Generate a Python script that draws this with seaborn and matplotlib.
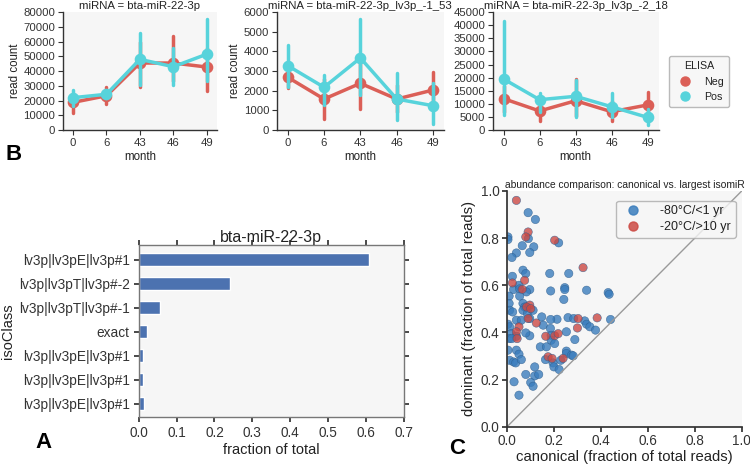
import numpy as np
import pandas as pd
import matplotlib
matplotlib.use("Agg")
import matplotlib.pyplot as plt
from matplotlib.lines import Line2D
import seaborn as sns

# ---------------- data ----------------
months = ["0", "6", "43", "46", "49"]
mirnas = ["bta-miR-22-3p", "bta-miR-22-3p_lv3p_-1_53", "bta-miR-22-3p_lv3p_-2_18"]

# panel B: estimate, lower and upper error bar per month
neg_est_1 = [18800, 23300, 45500, 45500, 42800]
neg_lo_1 = [11500, 17500, 29500, 33000, 26500]
neg_hi_1 = [25000, 29000, 60000, 63500, 56000]
pos_est_1 = [22000, 24300, 48000, 43000, 51500]
pos_lo_1 = [16500, 22000, 30500, 30500, 33500]
pos_hi_1 = [27500, 26500, 66000, 55500, 75500]

neg_est_2 = [2690, 1580, 2380, 1580, 2040]
neg_lo_2 = [2150, 550, 1050, 900, 1300]
neg_hi_2 = [3200, 2600, 3700, 2300, 2950]
pos_est_2 = [3280, 2180, 3670, 1580, 1240]
pos_lo_2 = [2200, 1300, 1800, 510, 300]
pos_hi_2 = [4350, 2800, 5650, 2900, 2400]

neg_est_3 = [12000, 7300, 11200, 7000, 9600]
neg_lo_3 = [7000, 3300, 5500, 3400, 4000]
neg_hi_3 = [17000, 11000, 19500, 11000, 14700]
pos_est_3 = [19500, 11600, 12900, 8900, 4850]
pos_lo_3 = [5700, 7000, 5000, 5000, 2000]
pos_hi_3 = [41800, 14200, 19000, 14000, 8000]

ymax_b = [80000, 6000, 45000]
ystep_b = [10000, 1000, 5000]

# panel A
iso_classes = ["lv3p|lv3pE|lv3p#1", "lv3p|lv3pT|lv3p#-2", "lv3p|lv3pT|lv3p#-1", "exact",
               "lv3p|lv3pE|lv3p#1", "lv3p|lv3pE|lv3p#1", "lv3p|lv3pE|lv3p#1"]
iso_fraction = [0.608, 0.240, 0.055, 0.023, 0.012, 0.012, 0.014]

# panel C
blue_x = [0.090, 0.121, 0.004, 0.004, 0.114, 0.065, 0.097, 0.040, 0.021, 0.091, 0.220, 0.068,
          0.080, 0.023, 0.182, 0.263, 0.028, 0.051, 0.054, 0.097, 0.083, 0.186, 0.246, 0.246,
          0.339, 0.431, 0.435, 0.009, 0.054, 0.242, 0.009, 0.068, 0.075, 0.011, 0.024, 0.068,
          0.087, 0.111, 0.040, 0.061, 0.097, 0.148, 0.154, 0.213, 0.260, 0.284, 0.331, 0.339,
          0.353, 0.377, 0.441, 0.004, 0.011, 0.018, 0.040, 0.097, 0.080, 0.186, 0.185, 0.188,
          0.188, 0.253, 0.009, 0.020, 0.142, 0.168, 0.203, 0.289, 0.004, 0.040, 0.051, 0.164,
          0.253, 0.253, 0.229, 0.275, 0.282, 0.011, 0.028, 0.037, 0.061, 0.196, 0.200, 0.222,
          0.080, 0.118, 0.135, 0.030, 0.101, 0.111, 0.051, 0.118]
blue_y = [0.908, 0.879, 0.805, 0.794, 0.763, 0.768, 0.739, 0.737, 0.718, 0.798, 0.780, 0.664,
          0.650, 0.638, 0.650, 0.650, 0.582, 0.600, 0.585, 0.582, 0.572, 0.576, 0.590, 0.582,
          0.579, 0.569, 0.562, 0.554, 0.554, 0.540, 0.523, 0.523, 0.508, 0.494, 0.487, 0.494,
          0.480, 0.494, 0.452, 0.452, 0.459, 0.466, 0.431, 0.456, 0.463, 0.459, 0.449, 0.435,
          0.424, 0.410, 0.455, 0.435, 0.424, 0.395, 0.384, 0.386, 0.398, 0.455, 0.417, 0.388,
          0.367, 0.403, 0.374, 0.374, 0.339, 0.339, 0.353, 0.370, 0.325, 0.325, 0.308, 0.285,
          0.321, 0.311, 0.282, 0.304, 0.301, 0.282, 0.275, 0.271, 0.285, 0.271, 0.254, 0.243,
          0.222, 0.216, 0.222, 0.191, 0.188, 0.172, 0.134, 0.254]
red_x = [0.040, 0.090, 0.080, 0.203, 0.324, 0.023, 0.075, 0.065, 0.097, 0.083, 0.101, 0.090,
         0.125, 0.303, 0.300, 0.384, 0.051, 0.040, 0.043, 0.165, 0.203, 0.218, 0.175, 0.192, 0.239]
red_y = [0.960, 0.826, 0.805, 0.791, 0.675, 0.610, 0.621, 0.583, 0.516, 0.508, 0.501, 0.459,
         0.440, 0.459, 0.419, 0.462, 0.424, 0.403, 0.374, 0.384, 0.386, 0.395, 0.297, 0.290, 0.290]
group_names = ["-80\u00b0C/<1 yr", "-20\u00b0C/>10 yr"]

# ---------------- style ----------------
sns.set_theme(style="ticks")
plt.rcParams["font.family"] = ["Liberation Sans", "DejaVu Sans"]
face = "#f6f6f6"
spine_col = "#333333"
plt.rcParams["axes.edgecolor"] = spine_col
plt.rcParams["xtick.color"] = spine_col
plt.rcParams["ytick.color"] = spine_col
plt.rcParams["text.color"] = "#222222"
plt.rcParams["axes.labelcolor"] = "#222222"

fig = plt.figure(figsize=(7.5, 4.68), dpi=100)
pal = sns.color_palette("hls", 2)

# ---------------- panel B ----------------
b_axes = [fig.add_axes([0.084, 0.722, 0.205, 0.252]),
          fig.add_axes([0.369, 0.722, 0.223, 0.252]),
          fig.add_axes([0.657, 0.722, 0.221, 0.252])]
series = [
    (neg_est_1, neg_lo_1, neg_hi_1, pos_est_1, pos_lo_1, pos_hi_1),
    (neg_est_2, neg_lo_2, neg_hi_2, pos_est_2, pos_lo_2, pos_hi_2),
    (neg_est_3, neg_lo_3, neg_hi_3, pos_est_3, pos_lo_3, pos_hi_3),
]
for i, ax in enumerate(b_axes):
    ne, nl, nh, pe, pl, ph = series[i]
    rows = []
    for lab, est, lo, hi in (("Neg", ne, nl, nh), ("Pos", pe, pl, ph)):
        for m, e, l, h in zip(months, est, lo, hi):
            for v in (l, e, h):
                rows.append({"month": m, "read count": v, "ELISA": lab})
    df = pd.DataFrame(rows)
    ax.set_facecolor(face)
    sns.pointplot(data=df, x="month", y="read count", hue="ELISA", order=months,
                  hue_order=["Neg", "Pos"], estimator="median", errorbar=("pi", 100),
                  palette=pal, markersize=6.5, linewidth=2.5, err_kws={"linewidth": 2.5},
                  legend=False, ax=ax)
    ax.set_ylim(0, ymax_b[i])
    ax.set_yticks(np.arange(0, ymax_b[i] + 1, ystep_b[i]))
    ax.set_xlim(-0.3, 4.3)
    ax.set_title("miRNA = " + mirnas[i], fontsize=8.2, pad=2)
    ax.set_xlabel("month", fontsize=8.3, labelpad=2)
    ax.set_ylabel("read count" if i < 2 else "", fontsize=8.3, labelpad=2)
    ax.tick_params(labelsize=8.2, length=3.5, width=0.8, pad=2)
    sns.despine(ax=ax)
    for s in ("left", "bottom"):
        ax.spines[s].set_linewidth(1.0)

handles = [Line2D([], [], marker="o", linestyle="", color=pal[0], markersize=6.5),
           Line2D([], [], marker="o", linestyle="", color=pal[1], markersize=6.5)]
leg = b_axes[2].legend(handles, ["Neg", "Pos"], title="ELISA", loc="center left",
                       bbox_to_anchor=(1.03, 0.41), fontsize=7.7, title_fontsize=7.7,
                       frameon=True, handletextpad=0.8, borderpad=0.5)
leg.get_frame().set_edgecolor("#aaaaaa")
leg.get_frame().set_facecolor(face)

# ---------------- panel A ----------------
axA = fig.add_axes([0.185, 0.109, 0.353, 0.368])
axA.set_facecolor(face)
dfa = pd.DataFrame({"pos": list(range(len(iso_classes))), "fraction": iso_fraction})
sns.barplot(data=dfa, y="pos", x="fraction", orient="h", color="#4c72b0",
            width=0.55, saturation=1, ax=axA)
axA.set_yticks(range(len(iso_classes)))
axA.set_yticklabels(iso_classes)
axA.set_ylim(6.56, -0.63)
axA.set_xlim(0, 0.7)
axA.set_xticks(np.arange(0, 0.71, 0.1))
axA.set_xticklabels([f"{v:.1f}" for v in np.arange(0, 0.71, 0.1)])
axA.set_title("bta-miR-22-3p", fontsize=11.5, pad=2)
axA.set_xlabel("fraction of total", fontsize=10.5, labelpad=2)
axA.set_ylabel("isoClass", fontsize=10.5, labelpad=3)
axA.tick_params(labelsize=9.8, direction="out", length=3.5, top=True, right=True, pad=3)
for s in axA.spines.values():
    s.set_edgecolor("#777777")
    s.set_linewidth(1.0)

# ---------------- panel C ----------------
axC = fig.add_axes([0.676, 0.088, 0.313, 0.504])
axC.set_facecolor(face)
dfc = pd.DataFrame({
    "canonical": blue_x + red_x,
    "dominant": blue_y + red_y,
    "group": [group_names[0]] * len(blue_x) + [group_names[1]] * len(red_x),
})
sns.lineplot(x=[0, 1], y=[0, 1], color="#9a9a9a", linewidth=1, ax=axC)
sns.scatterplot(data=dfc, x="canonical", y="dominant", hue="group",
                hue_order=group_names, palette=["#3a7dbd", "#cc4a44"], s=36, alpha=0.8,
                edgecolor="#2f5f8f", linewidth=0.4, ax=axC, legend=False)
axC.set_xlim(0, 1)
axC.set_ylim(0, 1)
axC.set_xticks(np.arange(0, 1.01, 0.2))
axC.set_yticks(np.arange(0, 1.01, 0.2))
axC.set_xticklabels([f"{v:.1f}" for v in np.arange(0, 1.01, 0.2)])
axC.set_yticklabels([f"{v:.1f}" for v in np.arange(0, 1.01, 0.2)])
axC.set_title("abundance comparison: canonical vs. largest isomiR", fontsize=7.4, pad=2)
axC.set_xlabel("canonical (fraction of total reads)", fontsize=10.7, labelpad=1)
axC.set_ylabel("dominant (fraction of total reads)", fontsize=10.7, labelpad=3)
axC.tick_params(labelsize=9.8, length=3.5, pad=2)
sns.despine(ax=axC)
hC = [Line2D([], [], marker="o", linestyle="", color="#3a7dbd", alpha=0.85, markersize=6.5),
      Line2D([], [], marker="o", linestyle="", color="#cc4a44", alpha=0.85, markersize=6.5)]
legC = axC.legend(hC, group_names, loc="upper right", fontsize=9.0, frameon=True,
                  handletextpad=1.2, borderpad=0.35, labelspacing=0.35,
                  bbox_to_anchor=(1.0, 0.985))
legC.get_frame().set_edgecolor("#aaaaaa")
legC.get_frame().set_facecolor(face)

# ---------------- panel letters ----------------
fig.text(14 / 750, 1 - 154 / 468, "B", fontsize=16, fontweight="bold", ha="center", va="center", color="black")
fig.text(44 / 750, 1 - 443 / 468, "A", fontsize=16, fontweight="bold", ha="center", va="center", color="black")
fig.text(457 / 750, 1 - 448 / 468, "C", fontsize=16, fontweight="bold", ha="center", va="center", color="black")

fig.savefig("out.png", dpi=100)
